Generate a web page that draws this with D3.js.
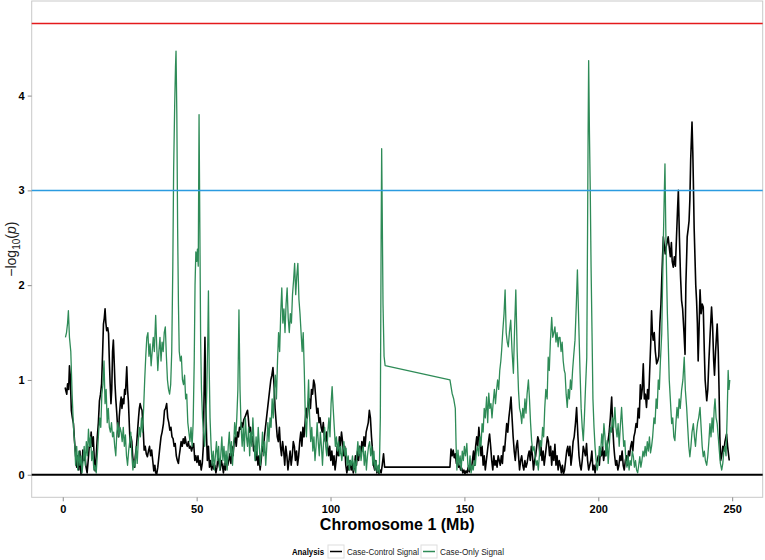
<!DOCTYPE html>
<html lang="en">
  <head>
    <meta charset="UTF-8" />
    <title>chromosome-1-signal</title>
    <style>
      body {
        margin: 0;
        font-family: "Liberation Sans", Arial, sans-serif;
        background: #fff;
      }
      .tick-label {
        font-size: 11px;
        font-weight: bold;
        fill: #000;
      }
      .legend-text text {
        font-size: 8.5px;
      }
    </style>
  </head>
  <body>
    <script src="https://cdn.jsdelivr.net/npm/d3@7"></script>
    <script>
      // position (Mb), -log10(p)
      const caseControl = [
        [0.9,0.92],[1.2,0.88],[1.5,0.85],[1.8,0.96],[2.2,0.9],[2.5,1.15],[2.8,1.05],[3.2,0.68],[3.6,0.6],[4.0,0.54],
        [4.4,0.35],[4.8,0.2],[5.2,0.08],[5.6,0.2],[6.0,0.05],[6.4,0.25],[6.8,0.01],[7.2,0.1],[7.5,0.26],[7.9,0.15],
        [8.3,0.2],[8.7,0.08],[9.1,0.02],[9.5,0.15],[9.9,0.3],[10.2,0.29],[10.6,0.45],[11.0,0.3],[11.4,0.4],[11.8,0.15],
        [12.1,0.04],[12.5,0.2],[12.9,0.4],[13.3,0.55],[13.7,0.78],[14.1,0.85],[14.5,0.96],[14.9,1.3],[15.2,1.59],[15.5,1.65],
        [15.8,1.75],[16.1,1.6],[16.4,1.52],[16.8,1.55],[17.1,1.49],[17.4,1.2],[17.7,0.96],[18.0,0.75],[18.3,0.9],[18.6,1.3],
        [18.9,1.42],[19.2,1.2],[19.5,0.96],[19.8,0.8],[20.1,0.68],[20.5,0.5],[20.8,0.4],[21.1,0.61],[21.5,0.75],[21.8,0.82],
        [22.1,0.7],[22.5,0.8],[22.8,0.75],[23.1,0.9],[23.4,0.85],[23.9,1.14],[24.2,0.9],[24.5,0.78],[24.9,0.5],[25.2,0.29],
        [25.5,0.4],[25.8,0.35],[26.1,0.2],[26.4,0.12],[26.8,0.08],[27.1,0.2],[27.5,0.29],[27.9,0.45],[28.3,0.6],[28.6,0.7],
        [28.9,0.75],[29.3,0.7],[29.6,0.68],[30.0,0.5],[30.4,0.26],[30.8,0.3],[31.2,0.22],[31.6,0.19],[32.0,0.25],[32.4,0.3],
        [32.8,0.2],[33.2,0.26],[33.6,0.15],[34.0,0.04],[34.4,0.1],[34.7,0.02],[35.1,0.01],[35.5,0.08],[35.9,0.19],[36.3,0.3],
        [36.7,0.4],[37.1,0.45],[37.6,0.54],[38.0,0.68],[38.4,0.7],[38.8,0.75],[39.2,0.6],[39.6,0.55],[40.0,0.47],[40.4,0.5],
        [40.8,0.4],[41.2,0.38],[41.6,0.3],[42.0,0.33],[42.4,0.2],[42.8,0.15],[43.2,0.12],[43.5,0.2],[43.8,0.26],[44.2,0.35],
        [44.6,0.3],[45.0,0.38],[45.4,0.33],[45.7,0.4],[46.1,0.33],[46.5,0.3],[46.9,0.35],[47.3,0.28],[47.7,0.3],[48.1,0.25],
        [48.5,0.3],[48.9,0.33],[49.3,0.15],[49.7,0.2],[50.1,0.13],[50.5,0.2],[50.9,0.1],[51.3,0.15],[51.7,0.05],[52.1,0.12],
        [52.5,0.3],[52.8,0.9],[53.1,1.45],[53.4,0.8],[53.7,0.4],[54.0,0.15],[54.4,0.3],[54.8,0.08],[55.2,0.15],[55.6,0.05],
        [56.0,0.12],[56.4,0.06],[56.8,0.1],[57.2,0.02],[57.6,0.08],[58.0,0.2],[58.4,0.1],[58.8,0.05],[59.2,0.15],[59.6,0.1],
        [60.0,0.02],[60.4,0.12],[60.8,0.05],[61.2,0.18],[61.6,0.1],[62.0,0.15],[62.4,0.22],[62.8,0.12],[63.2,0.3],[63.6,0.2],
        [64.0,0.35],[64.4,0.4],[64.8,0.3],[65.2,0.45],[65.6,0.4],[66.0,0.5],[66.4,0.48],[66.8,0.55],[67.2,0.5],[67.6,0.58],
        [68.1,0.61],[68.6,0.65],[69.0,0.68],[69.3,0.6],[69.7,0.45],[70.1,0.5],[70.5,0.35],[70.9,0.4],[71.3,0.25],[71.7,0.3],
        [72.1,0.15],[72.5,0.25],[72.9,0.1],[73.3,0.2],[73.7,0.05],[74.1,0.15],[74.5,0.3],[74.9,0.25],[75.3,0.4],[75.7,0.5],
        [76.1,0.6],[76.5,0.7],[76.9,0.8],[77.3,0.9],[77.7,1.0],[78.1,1.05],[78.5,1.13],[78.9,0.95],[79.3,0.7],[79.7,0.55],
        [80.1,0.4],[80.5,0.35],[80.9,0.5],[81.3,0.3],[81.7,0.2],[82.1,0.35],[82.5,0.25],[82.9,0.1],[83.3,0.3],[83.7,0.2],
        [84.1,0.05],[84.5,0.15],[84.9,0.25],[85.3,0.1],[85.7,0.2],[86.1,0.35],[86.5,0.3],[86.9,0.15],[87.3,0.25],[87.7,0.1],
        [88.1,0.2],[88.5,0.35],[88.9,0.45],[89.3,0.3],[89.7,0.5],[90.1,0.4],[90.5,0.55],[90.9,0.7],[91.3,0.6],[91.7,0.75],
        [92.1,0.8],[92.5,0.7],[92.9,0.9],[93.3,0.85],[93.7,1.0],[94.1,0.95],[94.5,0.8],[94.9,0.65],[95.3,0.7],[95.7,0.55],
        [96.1,0.6],[96.5,0.5],[96.9,0.45],[97.3,0.55],[97.7,0.4],[98.1,0.35],[98.5,0.45],[98.9,0.3],[99.3,0.2],[99.7,0.3],
        [100.1,0.15],[100.5,0.25],[100.9,0.1],[101.3,0.2],[101.7,0.05],[102.1,0.15],[102.5,0.3],[102.9,0.2],[103.3,0.4],[103.7,0.3],
        [104.1,0.45],[104.5,0.35],[104.9,0.2],[105.3,0.3],[105.7,0.1],[106.1,0.02],[106.5,0.1],[106.9,0.05],[107.3,0.15],[107.7,0.05],
        [108.1,0.12],[108.5,0.02],[108.9,0.08],[109.3,0.2],[109.7,0.1],[110.1,0.25],[110.5,0.15],[110.9,0.3],[111.3,0.2],[111.7,0.35],
        [112.1,0.25],[112.5,0.4],[112.9,0.3],[113.3,0.45],[113.7,0.5],[114.1,0.55],[114.5,0.68],[114.9,0.6],[115.3,0.4],[115.7,0.25],
        [116.1,0.1],[116.5,0.05],[116.9,0.15],[117.3,0.02],[117.7,0.06],[118.1,0.01],[118.5,0.05],[118.9,0.02],[119.3,0.1],[119.8,0.22],
        [120.2,0.08],[144.6,0.08],[145.0,0.27],[145.4,0.2],[145.8,0.26],[146.2,0.18],[146.6,0.22],[147.0,0.12],[147.4,0.15],[147.8,0.08],
        [148.2,0.1],[148.6,0.05],[149.0,0.07],[149.4,0.02],[149.8,0.05],[150.2,0.01],[150.6,0.04],[151.0,0.02],[151.4,0.08],[151.8,0.03],
        [152.2,0.1],[152.6,0.05],[153.0,0.15],[153.4,0.25],[153.8,0.1],[154.2,0.3],[154.6,0.4],[155.0,0.3],[155.4,0.5],[155.8,0.35],
        [156.2,0.2],[156.6,0.3],[157.0,0.1],[157.4,0.2],[157.8,0.05],[158.2,0.15],[158.6,0.25],[159.0,0.35],[159.4,0.43],[159.8,0.3],
        [160.2,0.15],[160.6,0.05],[161.0,0.2],[161.4,0.1],[161.8,0.15],[162.2,0.08],[162.6,0.2],[163.0,0.15],[163.4,0.1],[163.8,0.2],
        [164.2,0.12],[164.6,0.3],[165.0,0.25],[165.4,0.4],[165.8,0.54],[166.2,0.45],[166.6,0.6],[167.0,0.7],[167.4,0.82],[167.8,0.6],
        [168.2,0.4],[168.6,0.25],[169.0,0.15],[169.4,0.3],[169.8,0.36],[170.2,0.2],[170.6,0.05],[171.0,0.15],[171.4,0.2],[171.8,0.1],
        [172.2,0.05],[172.6,0.15],[173.0,0.08],[173.4,0.12],[173.8,0.2],[174.2,0.25],[174.6,0.15],[175.0,0.3],[175.4,0.2],[175.8,0.05],
        [176.2,0.15],[176.6,0.2],[177.0,0.3],[177.4,0.4],[177.8,0.36],[178.2,0.2],[178.6,0.3],[179.0,0.15],[179.4,0.25],[179.8,0.1],
        [180.2,0.2],[180.6,0.3],[181.0,0.4],[181.4,0.35],[181.8,0.2],[182.2,0.3],[182.6,0.1],[183.0,0.25],[183.4,0.15],[183.8,0.32],
        [184.2,0.1],[184.6,0.2],[185.0,0.05],[185.4,0.15],[185.8,0.1],[186.2,0.02],[186.6,0.1],[187.0,0.01],[187.4,0.05],[187.8,0.15],
        [188.2,0.25],[188.6,0.3],[189.0,0.2],[189.4,0.3],[189.8,0.1],[190.2,0.2],[190.6,0.35],[191.0,0.4],[191.5,0.55],[191.9,0.71],
        [192.4,0.4],[192.8,0.2],[193.2,0.1],[193.6,0.05],[194.0,0.15],[194.4,0.3],[194.8,0.25],[195.2,0.2],[195.6,0.33],[196.0,0.15],
        [196.4,0.05],[196.8,0.1],[197.2,0.15],[197.6,0.25],[198.0,0.05],[198.4,0.1],[198.8,0.02],[199.2,0.1],[199.6,0.15],[200.0,0.2],
        [200.4,0.1],[200.8,0.25],[201.2,0.2],[201.6,0.3],[202.0,0.15],[202.4,0.25],[202.8,0.2],[203.2,0.3],[203.6,0.35],[204.0,0.43],
        [204.5,0.6],[205.0,0.82],[205.4,0.5],[205.8,0.3],[206.1,0.2],[206.5,0.1],[206.9,0.15],[207.3,0.05],[207.7,0.1],[208.1,0.2],
        [208.5,0.15],[208.9,0.25],[209.3,0.1],[209.7,0.05],[210.1,0.15],[210.5,0.2],[210.9,0.1],[211.3,0.25],[211.7,0.2],[212.1,0.3],
        [212.5,0.35],[212.9,0.25],[213.3,0.4],[213.7,0.45],[214.1,0.54],[214.5,0.5],[214.9,0.7],[215.3,0.6],[215.7,0.95],[216.0,0.8],
        [216.4,0.9],[216.8,1.17],[217.2,0.8],[217.6,0.85],[218.0,0.71],[218.4,0.9],[218.8,0.8],[219.2,1.1],[219.6,1.4],[219.9,1.73],
        [220.2,1.5],[220.5,1.42],[220.9,1.5],[221.3,1.3],[221.8,1.17],[222.2,1.2],[222.6,1.25],[223.0,1.6],[223.4,1.8],[223.7,2.06],
        [224.0,2.3],[224.3,2.51],[224.7,2.4],[225.0,2.33],[225.3,2.4],[225.7,2.45],[226.1,2.51],[226.5,2.4],[226.9,2.3],[227.3,2.45],
        [227.6,2.25],[228.0,2.19],[228.4,2.3],[228.8,2.2],[229.2,2.5],[229.6,2.8],[229.9,3.0],[230.3,2.5],[230.7,2.1],[231.1,1.84],
        [231.5,1.75],[232.0,1.5],[232.4,1.27],[232.7,2.0],[233.0,2.3],[233.2,2.51],[233.6,2.6],[233.9,2.68],[234.2,2.9],[234.5,3.32],
        [235.0,3.72],[235.3,3.4],[235.5,3.1],[235.8,2.6],[236.1,2.3],[236.4,2.0],[236.7,1.84],[237.0,1.6],[237.3,1.2],[237.6,1.5],
        [238.0,1.95],[238.4,1.7],[238.8,1.8],[239.2,1.77],[239.6,1.3],[239.9,1.0],[240.5,0.78],[240.9,0.9],[241.3,1.2],[241.8,1.5],
        [242.3,1.77],[242.7,1.56],[243.1,1.2],[243.4,1.05],[243.8,1.3],[244.4,1.59],[244.8,1.3],[245.1,0.9],[245.4,0.4],[245.7,0.15],
        [246.1,0.2],[246.5,0.3],[246.9,0.25],[247.3,0.35],[247.9,0.43],[248.3,0.3],[248.9,0.15]
      ];

      const caseOnly = [
        [1.0,1.45],[1.4,1.5],[1.8,1.6],[2.1,1.73],[2.5,1.45],[3.0,1.3],[3.5,0.85],[4.0,0.5],[4.4,0.35],[4.8,0.1],
        [5.2,0.3],[5.6,0.05],[6.0,0.25],[6.4,0.1],[6.8,0.2],[7.2,0.02],[7.6,0.15],[8.0,0.3],[8.4,0.1],[8.8,0.35],
        [9.2,0.2],[9.6,0.48],[10.0,0.3],[10.4,0.4],[10.8,0.15],[11.2,0.25],[11.6,0.05],[12.0,0.1],[12.5,0.02],[13.0,0.25],
        [13.4,0.45],[13.8,0.6],[14.2,0.5],[14.6,0.85],[15.0,0.95],[15.4,1.2],[15.8,0.75],[16.2,0.9],[16.6,0.55],[17.0,0.7],
        [17.4,0.5],[17.8,0.45],[18.2,0.55],[18.6,0.4],[19.0,0.45],[19.4,0.3],[19.8,0.2],[20.2,0.45],[20.6,0.55],[21.0,0.4],
        [21.4,0.5],[21.8,0.45],[22.2,0.35],[22.6,0.5],[23.0,0.3],[23.4,0.42],[23.8,0.2],[24.2,0.1],[24.6,0.25],[25.0,0.35],
        [25.4,0.45],[25.8,0.2],[26.2,0.05],[26.6,0.15],[27.0,0.08],[27.4,0.3],[27.8,0.12],[28.2,0.35],[28.6,0.5],[29.0,0.4],
        [29.4,0.6],[29.8,0.45],[30.2,0.7],[30.6,1.0],[31.0,1.25],[31.4,1.45],[31.8,1.5],[32.2,1.25],[32.6,1.38],[33.0,1.15],
        [33.4,1.3],[33.8,1.45],[34.2,1.3],[34.7,1.68],[35.1,1.35],[35.5,1.1],[35.9,1.3],[36.3,1.45],[36.7,1.2],[37.1,1.4],
        [37.5,1.3],[37.9,1.5],[38.3,1.56],[38.7,1.25],[39.1,1.0],[39.5,0.9],[39.9,0.85],[40.3,0.95],[40.7,1.3],[41.1,2.2],
        [41.4,3.2],[41.8,3.9],[42.1,4.3],[42.3,4.47],[42.6,3.8],[42.9,2.6],[43.2,1.8],[43.5,1.3],[43.9,1.2],[44.3,1.25],
        [44.7,1.0],[45.1,0.95],[45.5,1.05],[45.9,0.8],[46.3,0.85],[46.7,0.55],[47.1,0.45],[47.5,0.35],[47.9,0.5],[48.3,0.3],
        [48.7,0.55],[49.1,1.2],[49.4,2.0],[49.7,2.35],[50.0,2.25],[50.3,2.38],[50.6,2.2],[50.9,3.8],[51.2,2.6],[51.5,1.4],
        [51.8,0.9],[52.2,0.6],[52.6,0.45],[53.0,0.3],[53.4,0.5],[53.8,0.9],[54.2,1.5],[54.4,1.94],[54.7,1.1],[55.0,0.6],
        [55.4,0.3],[55.8,0.1],[56.2,0.25],[56.6,0.05],[57.0,0.2],[57.4,0.35],[57.8,0.15],[58.2,0.3],[58.6,0.05],[59.0,0.2],
        [59.4,0.4],[59.8,0.15],[60.2,0.3],[60.6,0.1],[61.0,0.25],[61.4,0.05],[61.8,0.3],[62.2,0.45],[62.6,0.2],[63.0,0.35],
        [63.4,0.1],[63.8,0.3],[64.2,0.55],[64.6,0.4],[65.0,0.6],[65.4,0.9],[65.8,1.74],[66.2,0.9],[66.6,0.5],[67.0,0.3],
        [67.4,0.5],[67.8,0.25],[68.2,0.6],[68.6,0.4],[69.0,0.3],[69.4,0.5],[69.8,0.2],[70.2,0.45],[70.6,0.3],[71.0,0.6],
        [71.4,0.35],[71.8,0.15],[72.2,0.4],[72.6,0.2],[73.0,0.5],[73.4,0.3],[73.8,0.1],[74.2,0.25],[74.6,0.45],[75.0,0.2],
        [75.4,0.35],[75.8,0.1],[76.2,0.3],[76.6,0.55],[77.0,0.35],[77.4,0.6],[77.8,0.5],[78.2,0.8],[78.6,0.6],[79.0,0.9],
        [79.4,1.05],[79.8,0.8],[80.2,1.2],[80.6,1.5],[81.0,1.3],[81.4,1.7],[81.8,1.97],[82.2,1.6],[82.6,1.75],[83.0,1.5],
        [83.4,1.8],[83.8,1.97],[84.2,1.65],[84.6,1.5],[85.0,1.7],[85.4,1.6],[85.8,1.9],[86.2,2.05],[86.6,2.23],[87.0,1.9],
        [87.4,2.1],[87.8,2.23],[88.2,1.85],[88.6,1.7],[89.0,1.5],[89.4,1.3],[89.8,1.5],[90.2,1.1],[90.6,0.6],[91.0,0.4],
        [91.4,0.7],[91.8,1.0],[92.2,0.6],[92.6,0.35],[93.0,0.5],[93.4,0.25],[93.8,0.4],[94.2,0.15],[94.6,0.3],[95.0,0.55],
        [95.4,0.35],[95.8,0.2],[96.2,0.45],[96.6,0.3],[97.0,0.1],[97.4,0.35],[97.8,0.5],[98.2,0.3],[98.6,0.2],[99.0,0.45],
        [99.4,0.6],[99.8,0.4],[100.2,0.75],[100.6,0.93],[101.0,0.7],[101.4,0.5],[101.8,0.3],[102.2,0.4],[102.6,0.25],[103.0,0.35],
        [103.4,0.2],[103.8,0.3],[104.2,0.15],[104.6,0.25],[105.0,0.35],[105.4,0.2],[105.8,0.28],[106.2,0.1],[106.6,0.2],[107.0,0.05],
        [107.4,0.15],[107.8,0.1],[108.2,0.2],[108.6,0.05],[109.0,0.15],[109.4,0.02],[109.8,0.2],[110.2,0.35],[110.6,0.2],[111.0,0.3],
        [111.4,0.15],[111.8,0.25],[112.2,0.3],[112.6,0.1],[113.0,0.25],[113.4,0.05],[113.8,0.2],[114.2,0.3],[114.6,0.35],[115.0,0.2],
        [115.4,0.3],[115.8,0.1],[116.2,0.25],[116.6,0.05],[117.0,0.15],[117.4,0.03],[117.8,0.1],[118.2,0.01],[118.6,0.6],[118.9,2.5],
        [119.1,3.44],[119.3,2.8],[119.6,1.8],[120.0,1.25],[120.4,1.15],[144.6,1.0],[145.4,0.86],[146.0,0.8],[146.6,0.7],[146.9,0.3],
        [147.2,0.05],[147.6,0.26],[148.0,0.1],[148.4,0.2],[148.8,0.05],[149.2,0.25],[149.6,0.15],[150.0,0.3],[150.4,0.2],[150.9,0.33],
        [151.3,0.1],[151.7,0.05],[152.1,0.2],[152.5,0.02],[152.9,0.1],[153.3,0.05],[153.7,0.15],[154.1,0.1],[154.5,0.25],[154.9,0.3],
        [155.3,0.2],[155.8,0.4],[156.2,0.3],[156.6,0.54],[157.0,0.45],[157.4,0.7],[157.8,0.6],[158.3,0.82],[158.7,0.55],[159.1,0.86],
        [159.5,0.7],[159.9,0.75],[160.3,0.6],[160.8,0.78],[161.2,0.9],[161.6,0.75],[162.0,0.89],[162.4,1.0],[162.8,0.9],[163.2,1.1],
        [163.6,1.2],[163.9,1.31],[164.3,1.5],[164.8,1.7],[165.2,1.95],[165.6,1.5],[166.0,1.4],[166.4,1.35],[166.8,1.5],[167.3,1.63],
        [167.8,1.3],[168.3,1.07],[168.7,1.5],[169.2,1.95],[169.7,1.3],[170.2,0.89],[170.6,0.7],[171.0,0.65],[171.4,0.54],[171.8,0.7],
        [172.2,0.6],[172.6,0.8],[173.0,0.65],[173.4,0.85],[173.9,1.0],[174.3,0.8],[174.7,0.55],[175.1,0.36],[175.5,0.25],[176.0,0.3],
        [176.4,0.19],[176.8,0.1],[177.2,0.15],[177.6,0.05],[178.0,0.2],[178.4,0.36],[178.8,0.3],[179.2,0.5],[179.6,0.4],[180.0,0.7],
        [180.4,0.9],[180.9,0.8],[181.3,1.24],[181.7,1.1],[182.1,1.4],[182.6,1.66],[183.0,1.45],[183.4,1.5],[183.8,1.56],[184.2,1.4],
        [184.6,1.5],[185.0,1.35],[185.3,1.45],[185.7,1.45],[186.1,1.3],[186.5,1.4],[186.9,1.2],[187.3,1.1],[187.6,1.07],[188.0,0.85],
        [188.4,0.71],[188.8,0.9],[189.2,0.8],[189.6,1.0],[190.0,0.9],[190.4,1.1],[190.8,1.25],[191.3,1.42],[191.8,1.8],[192.2,2.16],
        [192.7,1.6],[193.2,1.07],[193.6,0.7],[194.0,0.5],[194.4,0.36],[194.8,0.6],[195.2,0.9],[195.7,1.24],[196.0,2.6],[196.2,3.6],
        [196.4,4.37],[196.7,3.6],[197.0,3.0],[197.3,2.2],[197.7,1.42],[198.0,0.8],[198.4,0.5],[198.8,0.29],[199.2,0.15],[199.6,0.05],
        [200.0,0.12],[200.4,0.3],[200.8,0.2],[201.3,0.43],[201.7,0.3],[202.1,0.54],[202.5,0.4],[202.9,0.2],[203.3,0.36],[203.7,0.12],
        [204.1,0.3],[204.5,0.5],[204.9,0.45],[205.3,0.6],[205.7,0.5],[206.2,0.71],[206.6,0.5],[207.0,0.4],[207.4,0.54],[207.8,0.3],
        [208.2,0.5],[208.7,0.71],[209.1,0.5],[209.5,0.3],[209.9,0.36],[210.3,0.15],[210.7,0.08],[211.1,0.2],[211.5,0.05],[211.9,0.15],
        [212.3,0.1],[212.7,0.25],[213.1,0.19],[213.5,0.08],[213.9,0.15],[214.3,0.05],[214.7,0.02],[215.1,0.1],[215.5,0.19],[215.9,0.08],
        [216.3,0.15],[216.7,0.25],[217.1,0.19],[217.5,0.3],[217.9,0.2],[218.3,0.35],[218.7,0.25],[219.1,0.4],[219.5,0.23],[219.9,0.3],
        [220.3,0.4],[220.8,0.6],[221.2,0.54],[221.6,0.8],[222.0,0.7],[222.4,1.0],[222.8,0.9],[223.2,1.2],[223.7,1.49],[224.0,2.0],
        [224.3,2.47],[224.6,2.9],[224.9,3.28],[225.2,2.6],[225.5,2.12],[225.8,1.7],[226.1,1.42],[226.5,1.0],[226.9,0.8],[227.4,0.54],
        [227.8,0.6],[228.2,0.4],[228.6,0.36],[229.0,0.55],[229.4,0.71],[229.8,0.6],[230.2,0.8],[230.6,0.7],[231.1,0.89],[231.6,1.0],
        [232.1,1.24],[232.5,0.9],[233.0,0.71],[233.4,0.5],[233.8,0.3],[234.2,0.19],[234.6,0.3],[235.0,0.45],[235.5,0.54],[235.9,0.4],
        [236.3,0.3],[236.7,0.45],[237.1,0.55],[237.5,0.6],[238.0,0.71],[238.4,0.5],[238.8,0.3],[239.2,0.19],[239.6,0.25],[240.0,0.15],
        [240.5,0.1],[240.9,0.2],[241.3,0.35],[241.7,0.54],[242.1,0.4],[242.5,0.6],[242.9,0.45],[243.3,0.7],[243.6,0.8],[244.0,0.6],
        [244.4,0.54],[244.8,0.4],[245.2,0.25],[245.6,0.12],[246.1,0.05],[246.5,0.12],[246.9,0.25],[247.3,0.3],[247.7,0.2],[248.1,0.6],
        [248.5,1.1],[248.8,0.9],[249.1,1.0]
      ];

      const seriesNames = ["Case-Control Signal", "Case-Only Signal"];
      const seriesColors = ["#000000", "#2e8b57"];
      const thresholds = [4.76, 3, 0];
      const thresholdColors = ["#e41a1c", "#2b9be0", "#000000"];
      const xTicks = [0, 50, 100, 150, 200, 250];
      const yTicks = [0, 1, 2, 3, 4];

      const width = 765;
      const height = 560;
      const panel = { left: 31.7, right: 762.7, top: 1, bottom: 497.3 };

      const svg = d3
        .select("body")
        .append("svg")
        .attr("width", width)
        .attr("height", height);

      const x = d3
        .scaleLinear()
        .domain([-11.6, 261.4])
        .range([panel.left, panel.right]);
      const y = d3
        .scaleLinear()
        .domain([-0.238, 4.998])
        .range([panel.bottom, panel.top]);

      // panel border
      svg
        .append("rect")
        .attr("x", panel.left)
        .attr("y", panel.top)
        .attr("width", panel.right - panel.left)
        .attr("height", panel.bottom - panel.top)
        .attr("fill", "#fff")
        .attr("stroke", "#c9c9c9")
        .attr("stroke-width", 1);

      // axes
      const xAxis = svg
        .append("g")
        .attr("transform", `translate(0,${panel.bottom})`)
        .call(
          d3.axisBottom(x).tickValues(xTicks).tickFormat(d3.format("d")).tickSize(4).tickPadding(4)
        );
      const yAxis = svg
        .append("g")
        .attr("transform", `translate(${panel.left},0)`)
        .call(
          d3.axisLeft(y).tickValues(yTicks).tickFormat(d3.format("d")).tickSize(4).tickPadding(3)
        );
      [xAxis, yAxis].forEach(a => {
        a.select(".domain").remove();
        a.selectAll(".tick line").attr("stroke", "#8c8c8c");
        a.selectAll(".tick text")
          .attr("class", "tick-label")
          .style("font-family", "'Liberation Sans', Arial, sans-serif");
      });

      // signal lines
      const line = d3
        .line()
        .x(d => x(d[0]))
        .y(d => y(d[1]));

      svg
        .selectAll(".signal")
        .data([caseControl, caseOnly])
        .enter()
        .append("path")
        .attr("class", "signal")
        .attr("d", line)
        .attr("fill", "none")
        .attr("stroke", (d, i) => seriesColors[i])
        .attr("stroke-width", (d, i) => (i === 0 ? 1.6 : 1.3))
        .attr("stroke-linejoin", "round");

      // threshold lines
      svg
        .selectAll(".threshold")
        .data(thresholds)
        .enter()
        .append("line")
        .attr("x1", panel.left)
        .attr("x2", panel.right)
        .attr("y1", d => y(d))
        .attr("y2", d => y(d))
        .attr("stroke", (d, i) => thresholdColors[i])
        .attr("stroke-width", (d, i) => (i === 2 ? 2 : 1.5));

      // axis titles
      svg
        .append("text")
        .attr("x", (panel.left + panel.right) / 2)
        .attr("y", 530)
        .attr("text-anchor", "middle")
        .style("font-size", "16px")
        .style("font-weight", "bold")
        .text("Chromosome 1 (Mb)");

      const yTitle = svg
        .append("text")
        .attr("transform", `translate(16,${(panel.top + panel.bottom) / 2}) rotate(-90)`)
        .attr("text-anchor", "middle")
        .style("font-size", "14px")
        .attr("fill", "#222");
      yTitle.append("tspan").text("\u2212log");
      yTitle
        .append("tspan")
        .attr("dy", 4)
        .style("font-size", "10px")
        .text("10");
      yTitle.append("tspan").attr("dy", -4).text("(");
      yTitle.append("tspan").style("font-style", "italic").text("p");
      yTitle.append("tspan").text(")");

      // legend
      const legend = svg.append("g").attr("class", "legend-text");
      legend
        .append("text")
        .attr("x", 292)
        .attr("y", 555)
        .attr("textLength", 32)
        .attr("lengthAdjust", "spacingAndGlyphs")
        .style("font-weight", "bold")
        .text("Analysis");

      const keyX = [328, 421];
      const labelWidths = [72, 64];
      const keys = legend
        .selectAll(".key")
        .data(seriesNames)
        .enter()
        .append("g")
        .attr("class", "key")
        .attr("transform", (d, i) => `translate(${keyX[i]},545)`);
      keys
        .append("rect")
        .attr("width", 16)
        .attr("height", 13)
        .attr("fill", "#fff")
        .attr("stroke", "#dedede");
      keys
        .append("line")
        .attr("x1", 2)
        .attr("x2", 14)
        .attr("y1", 6.5)
        .attr("y2", 6.5)
        .attr("stroke", (d, i) => seriesColors[i])
        .attr("stroke-width", 1.5);
      keys
        .append("text")
        .attr("x", 19)
        .attr("y", 10)
        .attr("fill", "#222")
        .attr("textLength", (d, i) => labelWidths[i])
        .attr("lengthAdjust", "spacingAndGlyphs")
        .text(d => d);
    </script>
  </body>
</html>
